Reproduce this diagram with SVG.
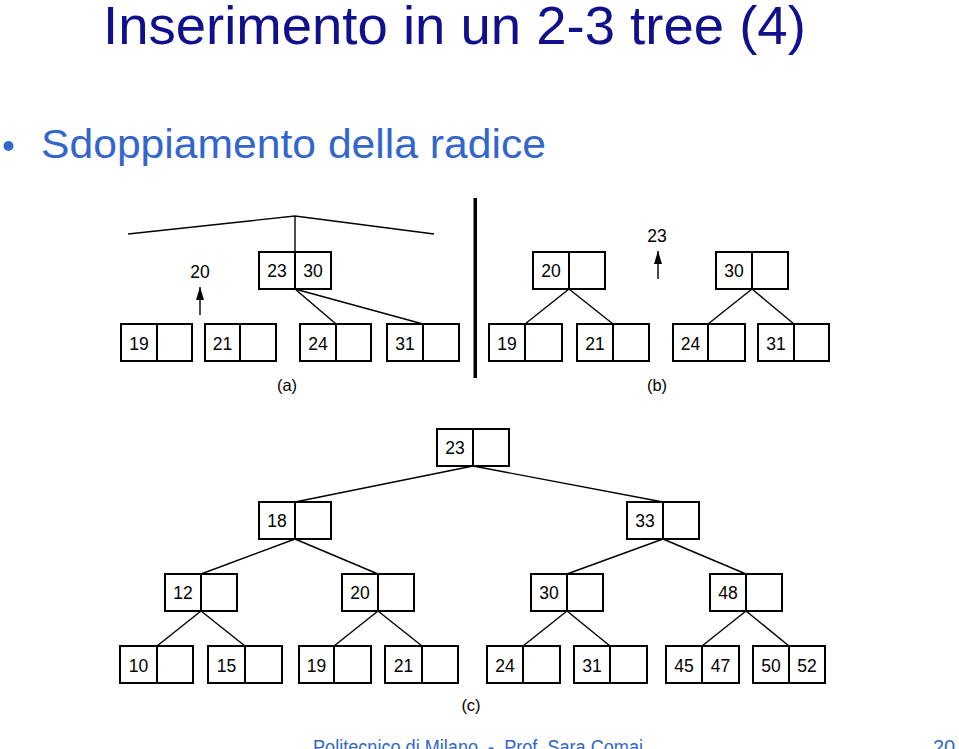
<svg xmlns="http://www.w3.org/2000/svg" width="959" height="749" viewBox="0 0 959 749">
<defs>
<style>
.box{fill:#fff;stroke:#000;stroke-width:2}
.div{stroke:#000;stroke-width:2}
.k{font-family:"Liberation Sans",Arial,sans-serif;font-size:17.5px;fill:#000;text-anchor:middle}
.lbl{font-family:"Liberation Sans",Arial,sans-serif;font-size:16.5px;fill:#000;text-anchor:middle}
.edge{stroke:#000;stroke-width:1.4;fill:none}
</style>
<marker id="ah" viewBox="0 0 13 8" refX="13" refY="4" markerWidth="13" markerHeight="8" markerUnits="userSpaceOnUse" orient="auto" preserveAspectRatio="none">
<path d="M0,0 L13,4 L0,8 Z" fill="#000"/>
</marker>
</defs>
<rect width="959" height="749" fill="#fff"/>
<text x="103" y="44" font-family="Liberation Sans,Arial,sans-serif" font-size="54.5" fill="#10108c">Inserimento in un 2-3 tree (4)</text>
<circle cx="8.5" cy="146" r="5" fill="#3366cc"/>
<text x="41" y="158" font-family="Liberation Sans,Arial,sans-serif" font-size="41" fill="#3366cc" textLength="505" lengthAdjust="spacingAndGlyphs">Sdoppiamento della radice</text>
<text x="313" y="754" font-family="Liberation Sans,Arial,sans-serif" font-size="20" fill="#3366cc" textLength="330" lengthAdjust="spacingAndGlyphs" style="white-space:pre">Politecnico di Milano  -  Prof. Sara Comai</text>
<text x="944" y="754" font-family="Liberation Sans,Arial,sans-serif" font-size="20" fill="#3366cc" text-anchor="middle">20</text>

<rect x="473.5" y="198" width="3.5" height="180" fill="#000"/>

<g id="connectors">
<polyline class="edge" points="128,234 295,216 434,234"/>
<line class="edge" x1="295" y1="216" x2="295" y2="252"/>
<line class="edge" x1="295" y1="289" x2="336" y2="324"/>
<line class="edge" x1="295" y1="289" x2="423" y2="324"/>
<line class="edge" x1="200" y1="315" x2="200" y2="287" marker-end="url(#ah)"/>
<line class="edge" x1="569" y1="289" x2="525" y2="324"/>
<line class="edge" x1="569" y1="289" x2="613" y2="324"/>
<line class="edge" x1="752" y1="289" x2="708" y2="324"/>
<line class="edge" x1="752" y1="289" x2="794" y2="324"/>
<line class="edge" x1="658" y1="279" x2="658" y2="251" marker-end="url(#ah)"/>
<line class="edge" x1="473" y1="466" x2="295" y2="502"/>
<line class="edge" x1="473" y1="466" x2="663" y2="502"/>
<line class="edge" x1="295" y1="539" x2="201" y2="574"/>
<line class="edge" x1="295" y1="539" x2="378" y2="574"/>
<line class="edge" x1="663" y1="539" x2="567" y2="574"/>
<line class="edge" x1="663" y1="539" x2="746" y2="574"/>
<line class="edge" x1="201" y1="611" x2="157" y2="646"/>
<line class="edge" x1="201" y1="611" x2="245" y2="646"/>
<line class="edge" x1="378" y1="611" x2="334" y2="646"/>
<line class="edge" x1="378" y1="611" x2="422" y2="646"/>
<line class="edge" x1="567" y1="611" x2="523" y2="646"/>
<line class="edge" x1="567" y1="611" x2="610" y2="646"/>
<line class="edge" x1="746" y1="611" x2="702" y2="646"/>
<line class="edge" x1="746" y1="611" x2="789" y2="646"/>
</g>

<text class="k" x="200" y="278">20</text>
<text class="k" x="657" y="242">23</text>

<!-- (a) -->
<g id="a-2330"><rect class="box" x="259" y="252" width="72" height="37"/><line class="div" x1="295" y1="252" x2="295" y2="289"/><text class="k" x="277" y="277">23</text><text class="k" x="313" y="277">30</text></g>
<g id="a-19"><rect class="box" x="121" y="324" width="71" height="37"/><line class="div" x1="157" y1="324" x2="157" y2="361"/><text class="k" x="139" y="350">19</text></g>
<g id="a-21"><rect class="box" x="205" y="324" width="71" height="37"/><line class="div" x1="240" y1="324" x2="240" y2="361"/><text class="k" x="222.5" y="350">21</text></g>
<g id="a-24"><rect class="box" x="300" y="324" width="71" height="37"/><line class="div" x1="336" y1="324" x2="336" y2="361"/><text class="k" x="318" y="350">24</text></g>
<g id="a-31"><rect class="box" x="387" y="324" width="72" height="37"/><line class="div" x1="423" y1="324" x2="423" y2="361"/><text class="k" x="405" y="350">31</text></g>
<text class="lbl" x="287" y="391">(a)</text>

<!-- (b) -->
<g id="b-20"><rect class="box" x="533" y="252" width="72" height="37"/><line class="div" x1="569" y1="252" x2="569" y2="289"/><text class="k" x="551" y="277">20</text></g>
<g id="b-30"><rect class="box" x="716" y="252" width="72" height="37"/><line class="div" x1="752" y1="252" x2="752" y2="289"/><text class="k" x="734" y="277">30</text></g>
<g id="b-19"><rect class="box" x="489" y="324" width="73" height="37"/><line class="div" x1="525" y1="324" x2="525" y2="361"/><text class="k" x="507" y="350">19</text></g>
<g id="b-21"><rect class="box" x="577" y="324" width="72" height="37"/><line class="div" x1="613" y1="324" x2="613" y2="361"/><text class="k" x="595" y="350">21</text></g>
<g id="b-24"><rect class="box" x="673" y="324" width="72" height="37"/><line class="div" x1="708" y1="324" x2="708" y2="361"/><text class="k" x="690.5" y="350">24</text></g>
<g id="b-31"><rect class="box" x="758" y="324" width="71" height="37"/><line class="div" x1="794" y1="324" x2="794" y2="361"/><text class="k" x="776" y="350">31</text></g>
<text class="lbl" x="657" y="391">(b)</text>

<!-- (c) -->
<g id="c-23"><rect class="box" x="437" y="429" width="72" height="37"/><line class="div" x1="473" y1="429" x2="473" y2="466"/><text class="k" x="455" y="454">23</text></g>
<g id="c-18"><rect class="box" x="259" y="502" width="72" height="37"/><line class="div" x1="295" y1="502" x2="295" y2="539"/><text class="k" x="277" y="527">18</text></g>
<g id="c-33"><rect class="box" x="627" y="502" width="72" height="37"/><line class="div" x1="663" y1="502" x2="663" y2="539"/><text class="k" x="645" y="527">33</text></g>
<g id="c-12"><rect class="box" x="165" y="574" width="72" height="37"/><line class="div" x1="201" y1="574" x2="201" y2="611"/><text class="k" x="183" y="599">12</text></g>
<g id="c-20"><rect class="box" x="342" y="574" width="72" height="37"/><line class="div" x1="378" y1="574" x2="378" y2="611"/><text class="k" x="360" y="599">20</text></g>
<g id="c-30"><rect class="box" x="531" y="574" width="72" height="37"/><line class="div" x1="567" y1="574" x2="567" y2="611"/><text class="k" x="549" y="599">30</text></g>
<g id="c-48"><rect class="box" x="710" y="574" width="72" height="37"/><line class="div" x1="746" y1="574" x2="746" y2="611"/><text class="k" x="728" y="599">48</text></g>
<g id="c-10"><rect class="box" x="120" y="646" width="73" height="37"/><line class="div" x1="157" y1="646" x2="157" y2="683"/><text class="k" x="138.5" y="672">10</text></g>
<g id="c-15"><rect class="box" x="208" y="646" width="74" height="37"/><line class="div" x1="245" y1="646" x2="245" y2="683"/><text class="k" x="226.5" y="672">15</text></g>
<g id="c-19"><rect class="box" x="299" y="646" width="72" height="37"/><line class="div" x1="334" y1="646" x2="334" y2="683"/><text class="k" x="316.5" y="672">19</text></g>
<g id="c-21"><rect class="box" x="385" y="646" width="73" height="37"/><line class="div" x1="422" y1="646" x2="422" y2="683"/><text class="k" x="403.5" y="672">21</text></g>
<g id="c-24"><rect class="box" x="487" y="646" width="73" height="37"/><line class="div" x1="523" y1="646" x2="523" y2="683"/><text class="k" x="505" y="672">24</text></g>
<g id="c-31"><rect class="box" x="574" y="646" width="73" height="37"/><line class="div" x1="610" y1="646" x2="610" y2="683"/><text class="k" x="592" y="672">31</text></g>
<g id="c-4547"><rect class="box" x="666" y="646" width="73" height="37"/><line class="div" x1="702" y1="646" x2="702" y2="683"/><text class="k" x="684" y="672">45</text><text class="k" x="720.5" y="672">47</text></g>
<g id="c-5052"><rect class="box" x="753" y="646" width="72" height="37"/><line class="div" x1="789" y1="646" x2="789" y2="683"/><text class="k" x="771" y="672">50</text><text class="k" x="807" y="672">52</text></g>
<text class="lbl" x="471" y="711">(c)</text>
</svg>
